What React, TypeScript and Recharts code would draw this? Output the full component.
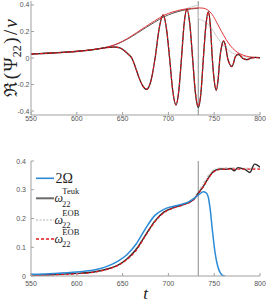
import React from 'react'
import { LineChart, Line, XAxis, YAxis, ReferenceLine, Legend } from 'recharts'

type Pt = [number, number]

// top panel: Re(Psi_22)/nu, [t, value]
const reTeuk: Pt[] = [
  [550, 0.03], [570, 0.036], [590, 0.044], [610, 0.056], [625, 0.07], [635, 0.08], [641, 0.083],
  [647, 0.076], [652, 0.055], [656, 0.03], [660, 0.0], [664, -0.07], [668, -0.15], [672, -0.21],
  [676.3, -0.237], [681, -0.17], [685.5, 0.0], [690, 0.225], [694.2, 0.323], [697.8, 0.225],
  [701.3, 0.0], [704.8, -0.25], [708.3, -0.355], [711.3, -0.25], [714.3, 0.0], [717.2, 0.26],
  [720.2, 0.368], [723.3, 0.26], [726.4, 0.0], [729.5, -0.265], [732.7, -0.375], [735.5, -0.265],
  [738.2, 0.0], [740.9, 0.245], [743.6, 0.35], [745.8, 0.245], [747.9, 0.0], [750, -0.17],
  [752.2, -0.245], [754.2, -0.17], [756.2, 0.0], [758.2, 0.09], [760.2, 0.128], [762.4, 0.09],
  [764.6, 0.0], [766.8, -0.045], [769, -0.065], [770.8, -0.045], [772.5, 0.0], [774.2, 0.019],
  [776, 0.027], [778.4, 0.018], [780.7, 0.0], [783, -0.008], [785.5, -0.012], [788, -0.008],
  [790, 0.0], [795, 0.004], [800, 0.002],
]
const reEob: Pt[] = [
  [550, 0.03], [570, 0.036], [590, 0.044], [610, 0.056], [625, 0.07], [635, 0.08], [641, 0.083],
  [647, 0.076], [652, 0.055], [656, 0.03], [660, 0.0], [664, -0.07], [668, -0.15], [672, -0.21],
  [676.3, -0.235], [681, -0.17], [685.5, 0.0], [690, 0.225], [694.2, 0.325], [697.8, 0.225],
  [701.3, 0.0], [704.8, -0.25], [708.3, -0.352], [711.3, -0.25], [714.3, 0.0], [717.2, 0.26],
  [720.2, 0.37], [723.3, 0.26], [726.4, 0.0], [729.5, -0.26], [732.7, -0.362], [735.5, -0.26],
  [738.2, 0.0], [740.9, 0.24], [743.6, 0.345], [745.8, 0.24], [747.9, 0.0], [750, -0.165],
  [752.2, -0.24], [754.2, -0.165], [756.2, 0.0], [758.2, 0.092], [760.2, 0.13], [762.4, 0.092],
  [764.6, 0.0], [766.8, -0.043], [769, -0.062], [770.8, -0.043], [772.5, 0.0], [774.2, 0.021],
  [776, 0.03], [778.4, 0.02], [780.7, 0.0], [783, -0.007], [785.5, -0.01], [788, -0.007],
  [790, 0.0], [795, 0.003], [800, 0.002],
]
const ampTeuk: Pt[] = [
  [550, 0.031], [575, 0.04], [600, 0.052], [620, 0.066], [635, 0.085], [645, 0.108], [655, 0.142],
  [665, 0.183], [675, 0.228], [685, 0.27], [695, 0.31], [705, 0.338], [715, 0.358], [725, 0.37],
  [732.6, 0.375],
]
const ampEob: Pt[] = [
  [550, 0.03], [575, 0.039], [600, 0.051], [620, 0.066], [635, 0.086], [645, 0.11], [655, 0.146],
  [665, 0.19], [675, 0.236], [685, 0.28], [695, 0.322], [705, 0.348], [715, 0.365], [725, 0.374],
  [733, 0.378], [738, 0.376], [743, 0.362], [748, 0.326], [753, 0.265], [758, 0.2], [763, 0.14],
  [768, 0.09], [773, 0.055], [778, 0.032], [785, 0.014], [792, 0.006], [800, 0.003],
]
const ampEobAlt: Pt[] = [
  [705, 0.342], [712, 0.358], [718, 0.37], [725, 0.385], [730, 0.395], [732.4, 0.398],
  [732.8, 0.296], [737, 0.285], [742, 0.262], [747, 0.225], [752, 0.17], [757, 0.12], [762, 0.08],
  [767, 0.05], [773, 0.028], [780, 0.014], [790, 0.006], [800, 0.003],
]

// bottom panel: frequencies
const omegaOrb: Pt[] = [
  [550, 0.006], [575, 0.009], [600, 0.014], [615, 0.019], [625, 0.025], [635, 0.036], [645, 0.052],
  [655, 0.075], [665, 0.112], [675, 0.165], [685, 0.21], [695, 0.232], [705, 0.242], [715, 0.25],
  [722, 0.258], [728, 0.27], [734, 0.285], [738, 0.293], [741, 0.29], [743.5, 0.275], [745.5, 0.235],
  [748, 0.16], [751, 0.08], [754, 0.032], [757, 0.009], [760, 0.001], [762, 0],
]
const omegaTeuk: Pt[] = [
  [550, 0.003], [575, 0.005], [600, 0.009], [620, 0.015], [635, 0.026], [645, 0.038], [655, 0.06],
  [665, 0.093], [675, 0.142], [685, 0.19], [695, 0.222], [705, 0.237], [715, 0.247], [722, 0.255],
  [728, 0.268], [733, 0.29], [738, 0.311], [743, 0.338], [748, 0.36], [753, 0.37], [758, 0.372],
  [763, 0.371], [768, 0.374], [772, 0.366], [776, 0.377], [780, 0.374], [784, 0.37], [789, 0.36],
  [794, 0.389], [797, 0.386], [800, 0.378],
]
const omegaEobAlt: Pt[] = [
  [550, 0.003], [600, 0.009], [635, 0.026], [655, 0.06], [675, 0.142], [695, 0.222], [710, 0.243],
  [720, 0.254], [728, 0.272], [733, 0.295], [738, 0.322], [743, 0.348], [748, 0.366], [753, 0.374],
  [760, 0.376], [770, 0.376], [785, 0.375], [800, 0.375],
]
const omegaEob: Pt[] = [
  [550, 0.002], [575, 0.004], [600, 0.008], [620, 0.014], [635, 0.025], [645, 0.037], [655, 0.058],
  [665, 0.09], [675, 0.14], [685, 0.188], [695, 0.22], [705, 0.236], [715, 0.246], [722, 0.254],
  [728, 0.267], [733, 0.288], [738, 0.31], [743, 0.336], [748, 0.358], [753, 0.368], [758, 0.371],
  [765, 0.372], [775, 0.372], [790, 0.372], [800, 0.372],
]

const tTicks = [550, 600, 650, 700, 750, 800]
const reTicks = [-0.4, -0.2, 0, 0.2, 0.4]
const omTicks = [0, 0.1, 0.2, 0.3, 0.4]
const tMerger = 732.6

const legendItems = [
  { base: '2Ω', sup: '', sub: '', color: '#2a8ad6', width: 1.6, dash: '' },
  { base: 'ω', sup: 'Teuk', sub: '22', color: '#6a6a6a', width: 2, dash: '' },
  { base: 'ω', sup: 'EOB', sub: '22', color: '#9a9a9a', width: 0.8, dash: '2 1.5' },
  { base: 'ω', sup: 'EOB', sub: '22', color: '#e3191f', width: 1.3, dash: '3 2' },
]

const AXIS = '#a0a0a0'
const TXT = '#555'
const SANS = '"Liberation Sans", Arial, sans-serif'
const SERIF = '"Liberation Serif", "DejaVu Serif", serif'

const rows = (pts: Pt[]) => pts.map(([t, v]) => ({ t, v }))

function XTick({ x, y, payload, gap }: any) {
  return (
    <g>
      <line x1={x} x2={x} y1={y} y2={y - 3} stroke={AXIS} />
      <text x={x} y={y + gap} textAnchor="middle" fontSize={7} fill={TXT} fontFamily={SANS}>
        {payload.value}
      </text>
    </g>
  )
}

function YTick({ x, y, payload, gap }: any) {
  return (
    <g>
      <line x1={x} x2={x + 3} y1={y} y2={y} stroke={AXIS} />
      <text x={x - gap} y={y + 2.5} textAnchor="end" fontSize={7} fill={TXT} fontFamily={SANS}>
        {payload.value}
      </text>
    </g>
  )
}

const TopTick = ({ x, y }: any) => <line x1={x} x2={x} y1={y} y2={y + 3} stroke={AXIS} />
const RightTick = ({ x, y }: any) => <line x1={x} x2={x - 3} y1={y} y2={y} stroke={AXIS} />

function ReLabel() {
  return (
    <text transform="rotate(-90)" x={-58} y={17} textAnchor="middle" fontFamily={SERIF} fontSize={19} fill="#222">
      <tspan fontSize={18}>ℜ</tspan>
      <tspan dx={2.5}>(</tspan>
      <tspan dx={1.5}>Ψ</tspan>
      <tspan fontSize={12} dy={4}>22</tspan>
      <tspan dy={-4} dx={1.5}>)</tspan>
      <tspan dx={2.5}>/</tspan>
      <tspan fontStyle="italic" dx={2}>ν</tspan>
    </text>
  )
}

function TLabel() {
  return (
    <text x={145.5} y={149} textAnchor="middle" fontFamily={SERIF} fontStyle="italic" fontSize={17} fill="#222">
      t
    </text>
  )
}

function FreqLegend() {
  const rowY = [13.3, 33.3, 55, 74]
  return (
    <svg width={70} height={90} style={{ display: 'block' }}>
      {legendItems.map((it, i) => {
        const y = rowY[i]
        return (
          <g key={i}>
            <line x1={2} x2={20} y1={y} y2={y} stroke={it.color} strokeWidth={it.width} strokeDasharray={it.dash || undefined} />
            {it.sup === '' ? (
              <text x={21.5} y={y + 4.7} fontFamily={SERIF} fontSize={14} fill="#222">{it.base}</text>
            ) : (
              <g fontFamily={SERIF} fill="#222">
                <text x={20.5} y={y + 3.6} fontSize={12} fontStyle="italic">{it.base}</text>
                <text x={28.3} y={y - 4} fontSize={8.5}>{it.sup}</text>
                <text x={28} y={y + 8.2} fontSize={8.5}>{it.sub}</text>
              </g>
            )}
          </g>
        )
      })}
    </svg>
  )
}

export default function App() {
  return (
    <div style={{ position: 'absolute', left: 0, top: 0, width: 266, height: 305, background: '#fff' }}>
      <div style={{ position: 'absolute', left: 0, top: 0 }}>
        <LineChart width={266} height={127} margin={{ top: 1, right: 6, bottom: 0, left: 0 }}>
          <XAxis dataKey="t" type="number" domain={[550, 800]} ticks={tTicks} interval={0} allowDataOverflow
            height={12} tickSize={0} tickMargin={0} tickLine={false} axisLine={{ stroke: AXIS }}
            tick={(p: any) => <XTick {...p} gap={5.5} />} />
          <XAxis xAxisId="top" orientation="top" type="number" domain={[550, 800]} ticks={tTicks} interval={0}
            allowDataOverflow height={0} tickSize={0} tickMargin={0} tickLine={false} axisLine={{ stroke: AXIS }}
            tick={<TopTick />} />
          <YAxis type="number" domain={[-0.43, 0.43]} ticks={reTicks} interval={0} allowDataOverflow width={31}
            tickSize={0} tickMargin={0} tickLine={false} axisLine={{ stroke: AXIS }}
            tick={(p: any) => <YTick {...p} gap={1.5} />} label={<ReLabel />} />
          <YAxis yAxisId="right" orientation="right" type="number" domain={[-0.43, 0.43]} ticks={reTicks}
            interval={0} allowDataOverflow width={0} tickSize={0} tickMargin={0} tickLine={false}
            axisLine={{ stroke: AXIS }} tick={<RightTick />} />
          <ReferenceLine x={tMerger} stroke="#8a8a8a" strokeWidth={1} />
          <Line data={rows(ampEobAlt)} dataKey="v" type="monotone" dot={false} stroke="#cdcdcd" strokeWidth={1} isAnimationActive={false} />
          <Line data={rows(ampTeuk)} dataKey="v" type="monotone" dot={false} stroke="#555" strokeWidth={1} isAnimationActive={false} />
          <Line data={rows(ampEob)} dataKey="v" type="monotone" dot={false} stroke="#e0383c" strokeWidth={1} isAnimationActive={false} />
          <Line data={rows(reTeuk)} dataKey="v" type="monotone" dot={false} stroke="#2b2b2b" strokeWidth={1.3} isAnimationActive={false} />
          <Line data={rows(reEob)} dataKey="v" type="monotone" dot={false} stroke="#e3191f" strokeWidth={1.1} strokeDasharray="3 1.5" isAnimationActive={false} />
        </LineChart>
      </div>
      <div style={{ position: 'absolute', left: 0, top: 150 }}>
        <LineChart width={266} height={155} margin={{ top: 11, right: 6, bottom: 0, left: 0 }}>
          <XAxis dataKey="t" type="number" domain={[550, 800]} ticks={tTicks} interval={0} allowDataOverflow
            height={29} tickSize={0} tickMargin={0} tickLine={false} axisLine={{ stroke: AXIS }}
            tick={(p: any) => <XTick {...p} gap={10} />} label={<TLabel />} />
          <XAxis xAxisId="top" orientation="top" type="number" domain={[550, 800]} ticks={tTicks} interval={0}
            allowDataOverflow height={0} tickSize={0} tickMargin={0} tickLine={false} axisLine={{ stroke: AXIS }}
            tick={<TopTick />} />
          <YAxis type="number" domain={[0, 0.4]} ticks={omTicks} interval={0} allowDataOverflow width={31}
            tickSize={0} tickMargin={0} tickLine={false} axisLine={{ stroke: AXIS }}
            tick={(p: any) => <YTick {...p} gap={5} />} />
          <YAxis yAxisId="right" orientation="right" type="number" domain={[0, 0.4]} ticks={omTicks}
            interval={0} allowDataOverflow width={0} tickSize={0} tickMargin={0} tickLine={false}
            axisLine={{ stroke: AXIS }} tick={<RightTick />} />
          <ReferenceLine x={tMerger} stroke="#8a8a8a" strokeWidth={1} />
          <Legend layout="horizontal" verticalAlign="middle" align="center"
            wrapperStyle={{ left: 34, top: 15, width: 70, height: 90 }} content={() => <FreqLegend />} />
          <Line data={rows(omegaEobAlt)} dataKey="v" type="monotone" dot={false} stroke="#bcbcbc" strokeWidth={1} strokeDasharray="3 1.5 1 1.5" isAnimationActive={false} />
          <Line data={rows(omegaTeuk)} dataKey="v" type="monotone" dot={false} stroke="#2b2b2b" strokeWidth={1.4} isAnimationActive={false} />
          <Line data={rows(omegaEob)} dataKey="v" type="monotone" dot={false} stroke="#e3191f" strokeWidth={1.3} strokeDasharray="3 2" isAnimationActive={false} />
          <Line data={rows(omegaOrb)} dataKey="v" type="monotone" dot={false} stroke="#2a8ad6" strokeWidth={1.5} isAnimationActive={false} />
        </LineChart>
      </div>
    </div>
  )
}
